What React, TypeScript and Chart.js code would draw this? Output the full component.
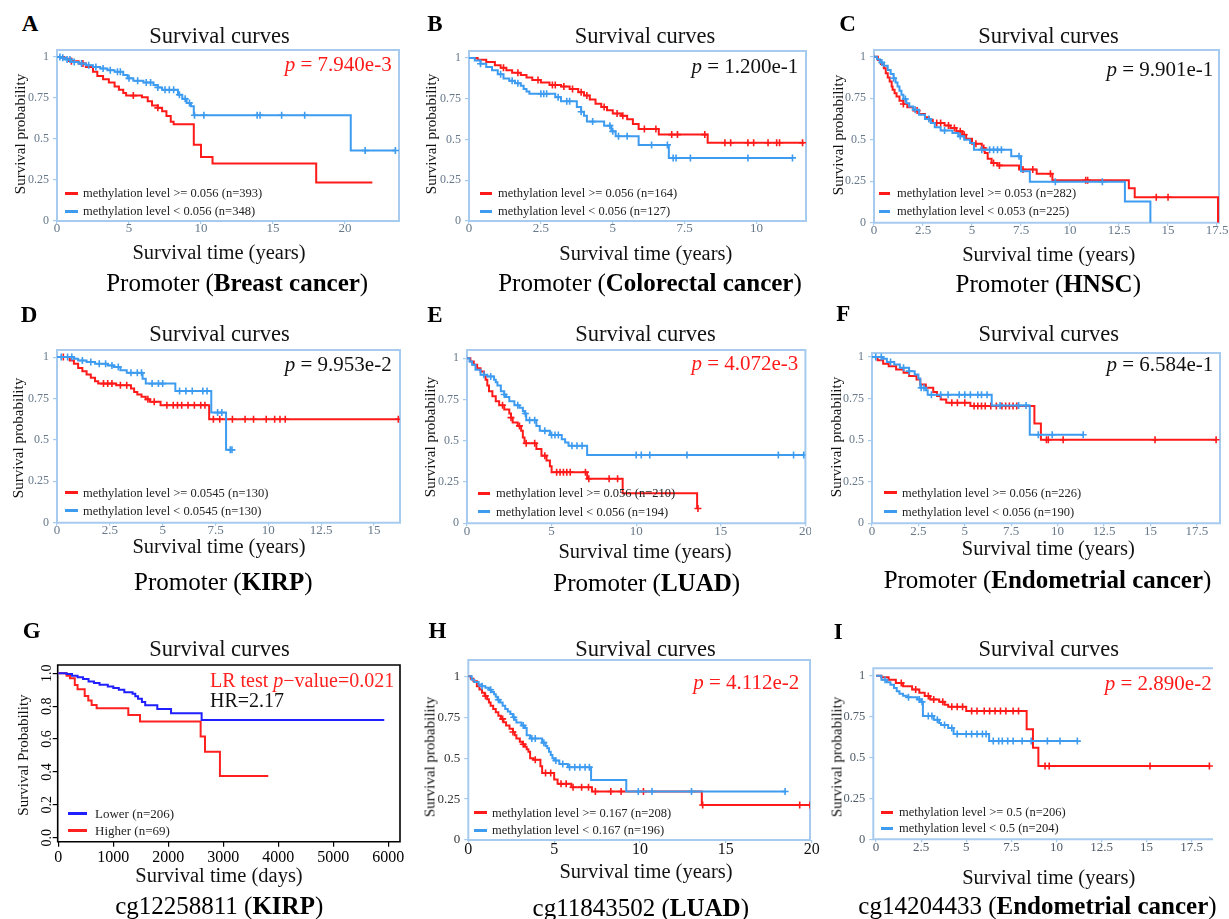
import React, { useEffect, useRef } from "react";
import { Chart, registerables } from "chart.js";

Chart.register(...registerables);

const FONT = '"Liberation Serif", "Times New Roman", Times, serif';
const RED = "#ff1a1a";
const BLUE = "#3d9bf0";
const R_BLUE = "#1f1fff";
const R_RED = "#ff2020";
const BOX = "#a6cbef";

// ---------- tick values ----------
const yearTicks5 = [0, 5, 10, 15, 20];
const yearTicks25B = [0, 2.5, 5, 7.5, 10];
const yearTicks25D = [0, 2.5, 5, 7.5, 10, 12.5, 15];
const yearTicks25 = [0, 2.5, 5, 7.5, 10, 12.5, 15, 17.5];
const dayTicks = [0, 1000, 2000, 3000, 4000, 5000, 6000];
const probTicks = [0, 0.25, 0.5, 0.75, 1];
const probTicksR = [0, 0.2, 0.4, 0.6, 0.8, 1.0];

// ---------- A: Breast cancer ----------
const aHiT = [0, 0.5, 1.0, 1.5, 2.0, 2.5, 2.8, 3.2, 3.6, 4.0, 4.3, 4.6, 4.8, 5.9, 6.3, 6.6, 7.0, 7.3, 7.6, 7.9, 8.1, 9.5, 10.0, 10.8, 18.0, 21.9];
const aHiS = [1, 0.99, 0.975, 0.96, 0.94, 0.91, 0.885, 0.865, 0.845, 0.82, 0.8, 0.78, 0.765, 0.755, 0.73, 0.705, 0.69, 0.67, 0.64, 0.605, 0.59, 0.465, 0.39, 0.35, 0.235, 0.235];
const aHiC = [1.0, 1.8, 5.3, 7.0];
const aLoT = [0, 0.3, 0.6, 1.0, 1.5, 2.0, 2.5, 3.0, 3.5, 4.0, 4.6, 4.9, 5.3, 6.0, 6.7, 7.0, 7.3, 8.4, 8.7, 9.0, 9.3, 9.5, 20.4, 23.5];
const aLoS = [1, 0.995, 0.985, 0.97, 0.96, 0.95, 0.94, 0.93, 0.92, 0.91, 0.89, 0.87, 0.855, 0.845, 0.83, 0.815, 0.8, 0.77, 0.745, 0.72, 0.7, 0.645, 0.43, 0.43];
const aLoC = [0.2, 0.4, 0.7, 0.9, 1.2, 1.7, 2.2, 2.7, 3.2, 3.7, 4.2, 4.4, 5.0, 5.6, 6.2, 6.5, 7.0, 7.5, 7.8, 8.1, 8.5, 8.9, 9.2, 9.55, 10.2, 13.9, 14.1, 15.6, 17.2, 21.4, 23.5];

// ---------- B: Colorectal cancer ----------
const bHiT = [0, 0.3, 0.6, 0.9, 1.1, 1.3, 1.5, 1.8, 2.0, 2.2, 2.5, 2.8, 3.2, 3.5, 3.8, 4.0, 4.2, 4.4, 4.6, 4.8, 5.0, 5.3, 5.5, 5.7, 5.9, 6.6, 8.3, 11.65];
const bHiS = [1, 0.99, 0.975, 0.955, 0.94, 0.925, 0.91, 0.895, 0.88, 0.865, 0.85, 0.835, 0.825, 0.81, 0.79, 0.77, 0.745, 0.72, 0.7, 0.68, 0.66, 0.645, 0.625, 0.595, 0.565, 0.53, 0.48, 0.48];
const bHiC = [1.2, 1.7, 2.4, 2.9, 3.0, 3.3, 3.6, 3.9, 4.1, 4.7, 5.15, 5.35, 6.1, 6.5, 7.05, 7.25, 8.2, 8.9, 9.1, 9.7, 9.9, 10.4, 10.7, 10.8, 11.6];
const bLoT = [0, 0.2, 0.4, 0.6, 0.8, 1.0, 1.2, 1.4, 1.6, 1.8, 1.9, 2.0, 2.1, 3.0, 3.2, 3.75, 3.9, 4.0, 4.1, 4.7, 4.95, 5.1, 5.9, 6.95, 11.25];
const bLoS = [1, 0.985, 0.965, 0.945, 0.925, 0.9, 0.875, 0.86, 0.845, 0.83, 0.81, 0.795, 0.78, 0.76, 0.735, 0.7, 0.67, 0.645, 0.61, 0.585, 0.55, 0.52, 0.467, 0.387, 0.387];
const bLoC = [0.4, 1.1, 1.5, 1.7, 2.5, 2.6, 2.7, 3.1, 3.4, 3.5, 3.9, 4.3, 4.9, 5.0, 5.2, 5.5, 6.35, 6.9, 7.1, 7.2, 7.7, 9.7, 11.25];

// ---------- C: HNSC ----------
const cHiT = [0, 0.2, 0.35, 0.5, 0.6, 0.7, 0.8, 0.9, 0.95, 1.05, 1.15, 1.3, 1.5, 1.7, 2.0, 2.3, 2.6, 2.8, 3.0, 3.6, 3.9, 4.2, 4.5, 4.7, 5.0, 5.5, 5.65, 5.8, 6.0, 6.3, 7.4, 8.3, 9.1, 13.0, 13.3, 17.55];
const cHiS = [1, 0.98, 0.955, 0.93, 0.9, 0.875, 0.85, 0.82, 0.8, 0.78, 0.76, 0.735, 0.715, 0.695, 0.675, 0.655, 0.635, 0.62, 0.6, 0.585, 0.57, 0.55, 0.53, 0.505, 0.475, 0.45, 0.42, 0.385, 0.36, 0.345, 0.32, 0.295, 0.255, 0.207, 0.153, 0];
const cHiC = [1.5, 2.2, 3.2, 3.4, 3.8, 4.1, 4.4, 4.6, 5.2, 5.6, 6.1, 6.4, 7.6, 8.1, 9.0, 10.8, 10.9, 14.4, 15.0];
const cLoT = [0, 0.15, 0.3, 0.5, 0.7, 0.85, 1.0, 1.1, 1.2, 1.3, 1.4, 1.5, 1.65, 1.8, 2.0, 2.3, 2.6, 2.9, 3.1, 3.4, 4.0, 4.3, 4.6, 4.9, 5.1, 7.0, 7.5, 7.95, 12.8, 14.1];
const cLoS = [1, 0.985, 0.965, 0.945, 0.92, 0.895, 0.87, 0.845, 0.82, 0.795, 0.77, 0.745, 0.72, 0.7, 0.68, 0.65, 0.625, 0.6, 0.575, 0.555, 0.54, 0.52, 0.5, 0.48, 0.44, 0.4, 0.31, 0.247, 0.127, 0];
const cLoC = [0.4, 1.0, 1.6, 2.1, 2.8, 3.6, 4.4, 5.5, 5.9, 6.1, 6.3, 6.5, 7.4, 9.25, 11.65];

// ---------- D: KIRP ----------
const dHiT = [0, 0.6, 0.8, 1.0, 1.2, 1.4, 1.6, 1.8, 1.95, 2.8, 3.5, 3.65, 3.8, 4.0, 4.2, 4.4, 4.9, 7.2, 16.15];
const dHiS = [1, 0.98, 0.96, 0.935, 0.915, 0.895, 0.875, 0.855, 0.84, 0.83, 0.81, 0.79, 0.775, 0.76, 0.745, 0.73, 0.71, 0.625, 0.625];
const dHiC = [0.3, 2.2, 2.4, 2.6, 3.0, 3.3, 4.3, 4.6, 5.2, 5.5, 5.7, 5.9, 6.2, 6.5, 6.8, 7.0, 7.4, 7.7, 8.3, 8.9, 9.3, 9.9, 10.3, 10.55, 10.8, 16.15];
const dLoT = [0, 0.8, 1.0, 1.4, 1.8, 2.4, 2.7, 3.0, 3.3, 4.05, 4.2, 5.6, 7.3, 8.0, 8.28];
const dLoS = [1, 0.99, 0.98, 0.97, 0.96, 0.95, 0.94, 0.92, 0.905, 0.87, 0.84, 0.795, 0.665, 0.44, 0.44];
const dLoC = [0.2, 0.5, 0.7, 1.2, 1.6, 2.0, 2.3, 2.6, 2.9, 3.5, 3.8, 4.0, 4.5, 4.8, 5.0, 5.8, 6.1, 6.4, 6.9, 7.1, 7.6, 7.8, 8.2, 8.28];

// ---------- E: LUAD ----------
const eHiT = [0, 0.2, 0.4, 0.6, 0.8, 1.0, 1.1, 1.2, 1.3, 1.5, 1.7, 1.9, 2.2, 2.5, 2.6, 2.7, 3.0, 3.2, 3.3, 3.4, 4.1, 4.4, 4.7, 4.9, 5.0, 7.1, 9.2, 13.6];
const eHiS = [1, 0.98, 0.96, 0.94, 0.92, 0.895, 0.87, 0.835, 0.8, 0.77, 0.74, 0.715, 0.69, 0.665, 0.64, 0.61, 0.59, 0.56, 0.52, 0.485, 0.45, 0.41, 0.38, 0.345, 0.31, 0.27, 0.182, 0.09];
const eHiC = [2.1, 2.6, 3.1, 3.5, 4.0, 4.6, 5.3, 5.5, 5.7, 5.9, 6.1, 7.0, 7.2, 8.4, 8.9, 13.65];
const eLoT = [0, 0.15, 0.3, 0.5, 0.8, 1.2, 1.6, 1.7, 1.8, 2.0, 2.2, 2.3, 2.5, 2.8, 3.1, 3.3, 3.4, 3.5, 4.1, 4.3, 4.9, 5.6, 5.8, 6.0, 7.1, 19.9];
const eLoS = [1, 0.98, 0.96, 0.93, 0.9, 0.89, 0.87, 0.855, 0.835, 0.8, 0.78, 0.765, 0.74, 0.715, 0.7, 0.68, 0.665, 0.625, 0.59, 0.56, 0.535, 0.51, 0.49, 0.47, 0.414, 0.414];
const eLoC = [1.0, 1.4, 2.2, 3.0, 3.45, 3.7, 4.0, 4.6, 5.0, 5.2, 5.4, 6.2, 6.5, 6.8, 10.0, 10.3, 10.8, 13.0, 18.4, 19.3, 19.9];

// ---------- F: Endometrial cancer ----------
const fHiT = [0, 0.3, 0.6, 0.9, 1.3, 1.7, 2.0, 2.4, 2.6, 2.9, 3.3, 3.5, 3.7, 4.0, 5.3, 8.75, 9.1, 18.54];
const fHiS = [1, 0.98, 0.96, 0.945, 0.925, 0.905, 0.885, 0.865, 0.835, 0.815, 0.79, 0.765, 0.745, 0.725, 0.705, 0.6, 0.502, 0.502];
const fHiC = [4.3, 4.6, 5.0, 5.5, 5.7, 5.9, 6.1, 6.4, 6.7, 7.0, 7.2, 7.4, 7.6, 7.8, 9.4, 9.5, 10.3, 15.25, 18.54];
const fLoT = [0, 0.6, 0.8, 1.2, 1.5, 2.0, 2.3, 2.5, 2.6, 2.9, 3.0, 6.45, 8.5, 11.38];
const fLoS = [1, 0.99, 0.97, 0.955, 0.935, 0.915, 0.895, 0.87, 0.815, 0.8, 0.773, 0.709, 0.532, 0.532];
const fLoC = [0.2, 0.5, 1.0, 1.7, 2.0, 2.65, 2.8, 3.2, 3.7, 4.1, 4.7, 5.0, 5.3, 5.7, 5.9, 6.2, 6.9, 7.9, 8.3, 8.96, 9.71, 11.38];

// ---------- G: cg12258811 KIRP (days) ----------
const gLoT = [0, 150, 250, 350, 450, 550, 650, 750, 900, 1000, 1100, 1200, 1350, 1400, 1450, 1520, 1580, 1800, 2050, 2606, 5927];
const gLoS = [1, 0.995, 0.985, 0.975, 0.965, 0.95, 0.94, 0.93, 0.92, 0.91, 0.9, 0.885, 0.875, 0.86, 0.845, 0.825, 0.805, 0.783, 0.757, 0.716, 0.716];
const gHiT = [0, 150, 212, 300, 350, 480, 545, 606, 697, 1273, 1485, 2588, 2667, 2939, 3818];
const gHiS = [1, 0.985, 0.97, 0.929, 0.903, 0.862, 0.834, 0.807, 0.787, 0.746, 0.706, 0.615, 0.523, 0.375, 0.375];

// ---------- H: cg11843502 LUAD ----------
const hHiT = [0, 0.15, 0.3, 0.5, 0.65, 0.8, 0.95, 1.1, 1.2, 1.3, 1.45, 1.6, 1.75, 1.9, 2.05, 2.2, 2.4, 2.6, 2.7, 2.8, 3.0, 3.15, 3.3, 3.4, 3.5, 3.6, 3.8, 4.2, 4.3, 5.0, 5.2, 6.0, 7.2, 13.6, 19.9];
const hHiS = [1, 0.985, 0.97, 0.94, 0.92, 0.9, 0.88, 0.86, 0.84, 0.82, 0.8, 0.78, 0.76, 0.74, 0.72, 0.7, 0.68, 0.66, 0.64, 0.62, 0.6, 0.585, 0.57, 0.555, 0.54, 0.5, 0.49, 0.45, 0.41, 0.37, 0.343, 0.322, 0.296, 0.214, 0.214];
const hHiC = [1.0, 2.0, 2.6, 3.2, 3.9, 4.5, 4.8, 5.4, 5.7, 6.1, 6.6, 7.0, 7.4, 8.3, 8.9, 10.2, 13.65, 19.3, 19.9];
const hLoT = [0, 0.2, 0.35, 0.6, 0.8, 1.0, 1.2, 1.35, 1.5, 1.6, 1.7, 1.85, 2.0, 2.15, 2.3, 2.45, 2.6, 2.7, 2.8, 3.1, 3.3, 3.4, 3.6, 4.3, 4.5, 4.6, 4.7, 4.8, 4.9, 5.0, 5.3, 5.8, 7.15, 9.2, 18.45];
const hLoS = [1, 0.98, 0.965, 0.95, 0.94, 0.93, 0.918, 0.905, 0.89, 0.875, 0.857, 0.84, 0.82, 0.8, 0.786, 0.77, 0.75, 0.735, 0.718, 0.7, 0.684, 0.64, 0.62, 0.595, 0.575, 0.56, 0.54, 0.52, 0.5, 0.486, 0.465, 0.445, 0.367, 0.296, 0.296];
const hLoC = [0.8, 1.3, 1.75, 2.65, 3.2, 3.7, 3.9, 4.4, 5.1, 5.5, 5.9, 6.2, 6.5, 6.8, 7.05, 9.9, 10.7, 13.0, 18.45];

// ---------- I: cg14204433 Endometrial cancer ----------
const iHiT = [0, 0.3, 0.7, 1.1, 1.5, 2.0, 2.4, 2.7, 3.0, 3.5, 3.8, 4.0, 5.0, 8.35, 8.7, 9.0, 18.48];
const iHiS = [1, 0.99, 0.975, 0.955, 0.935, 0.915, 0.895, 0.875, 0.855, 0.84, 0.822, 0.81, 0.784, 0.672, 0.56, 0.448, 0.448];
const iHiC = [1.4, 2.2, 2.9, 3.2, 3.7, 4.2, 4.5, 4.8, 5.3, 5.6, 6.0, 6.3, 6.6, 6.9, 7.2, 7.6, 7.9, 9.37, 9.6, 15.19, 18.48];
const iLoT = [0, 0.3, 0.6, 0.8, 1.0, 1.15, 1.3, 1.5, 1.7, 2.3, 2.5, 2.6, 3.2, 3.5, 3.6, 4.0, 4.3, 6.27, 11.16];
const iLoS = [1, 0.975, 0.96, 0.945, 0.925, 0.905, 0.89, 0.878, 0.868, 0.855, 0.84, 0.754, 0.73, 0.71, 0.699, 0.68, 0.644, 0.6, 0.6];
const iLoC = [0.5, 1.8, 2.4, 2.55, 2.9, 3.1, 3.4, 3.8, 4.2, 4.5, 5.0, 5.3, 5.6, 5.9, 6.1, 6.5, 6.8, 7.0, 7.3, 7.6, 8.1, 8.6, 9.5, 10.2, 11.16];

type Series = { label: string; times: number[]; surv: number[]; cens: number[]; color: string; row: number };

function hiLo(hiLabel: string, loLabel: string, hT: number[], hS: number[], hC: number[], lT: number[], lS: number[], lC: number[]): Series[] {
  return [
    { label: loLabel, times: lT, surv: lS, cens: lC, color: BLUE, row: 1 },
    { label: hiLabel, times: hT, surv: hS, cens: hC, color: RED, row: 0 },
  ];
}

const webTick = { xFont: 13, yFont: 12, xColor: "#66788a", yColor: "#66788a" };

const PANELS: any[] = [
  {
    id: "A", box: [57, 50, 399, 221], x: [0, 23.75], y: [0, 1.043], xTicks: yearTicks5, yTicks: probTicks, ...webTick,
    series: hiLo("methylation level >= 0.056 (n=393)", "methylation level < 0.056 (n=348)", aHiT, aHiS, aHiC, aLoT, aLoS, aLoC),
    letter: [30, 22.8], title: [219.5, 36], pval: { x: 391.7, y: 64.2, red: true, v: "7.940e-3" },
    legend: { x1: 65, x2: 78, tx: 83, ys: [193, 211], size: 12.5 },
    xTitle: [219, 252, "Survival time (years)"], yTitle: [20, 134, "Survival probability"],
    sub: [237.2, 282.3, "Promoter (", "Breast cancer"],
  },
  {
    id: "B", box: [469, 51, 806, 221], x: [0, 11.72], y: [0, 1.043], xTicks: yearTicks25B, yTicks: probTicks, ...webTick,
    series: hiLo("methylation level >= 0.056 (n=164)", "methylation level < 0.056 (n=127)", bHiT, bHiS, bHiC, bLoT, bLoS, bLoC),
    letter: [435, 22.8], title: [645, 36], pval: { x: 798.3, y: 66.2, red: false, v: "1.200e-1" },
    legend: { x1: 480, x2: 492, tx: 498, ys: [193, 211], size: 12.5 },
    xTitle: [645.8, 252.5, "Survival time (years)"], yTitle: [430.7, 134, "Survival probability"],
    sub: [650, 282.3, "Promoter (", "Colorectal cancer"],
  },
  {
    id: "C", box: [874, 50, 1219, 222.7], x: [0, 17.6], y: [0, 1.04], xTicks: yearTicks25, yTicks: probTicks, ...webTick, mr: 10,
    series: hiLo("methylation level >= 0.053 (n=282)", "methylation level < 0.053 (n=225)", cHiT, cHiS, cHiC, cLoT, cLoS, cLoC),
    letter: [847.5, 22.5], title: [1048.5, 36], pval: { x: 1213.3, y: 69.2, red: false, v: "9.901e-1" },
    legend: { x1: 879, x2: 890, tx: 897, ys: [193, 211], size: 12.5 },
    xTitle: [1048.7, 254, "Survival time (years)"], yTitle: [838.3, 135, "Survival probability"],
    sub: [1048.3, 283.3, "Promoter (", "HNSC"],
  },
  {
    id: "D", box: [57, 350, 400, 522.7], x: [0, 16.23], y: [0, 1.043], xTicks: yearTicks25D, yTicks: probTicks, ...webTick,
    series: hiLo("methylation level >= 0.0545 (n=130)", "methylation level < 0.0545 (n=130)", dHiT, dHiS, dHiC, dLoT, dLoS, dLoC),
    letter: [29, 314], title: [219.5, 334], pval: { x: 391.7, y: 364.2, red: false, v: "9.953e-2" },
    legend: { x1: 65, x2: 78, tx: 83, ys: [492.7, 510.7], size: 12.5 },
    xTitle: [219, 545.8, "Survival time (years)"], yTitle: [18.3, 437.5, "Survival probability"],
    sub: [223.3, 580.5, "Promoter (", "KIRP"],
  },
  {
    id: "E", box: [467, 350, 810, 523.3], x: [0, 20], y: [0, 1.05], xTicks: yearTicks5, yTicks: probTicks, ...webTick, mr: 1,
    series: hiLo("methylation level >= 0.056 (n=210)", "methylation level < 0.056 (n=194)", eHiT, eHiS, eHiC, eLoT, eLoS, eLoC),
    letter: [435, 314], title: [645.5, 334], pval: { x: 798.3, y: 362.5, red: true, v: "4.072e-3" },
    legend: { x1: 478, x2: 490, tx: 496, ys: [493, 511.7], size: 12.5 },
    xTitle: [645, 551, "Survival time (years)"], yTitle: [430, 436.7, "Survival probability"],
    sub: [646.7, 581.5, "Promoter (", "LUAD"],
  },
  {
    id: "F", box: [872, 353, 1220, 523.3], x: [0, 18.75], y: [0, 1.024], xTicks: yearTicks25, yTicks: probTicks, ...webTick, mr: 9,
    series: hiLo("methylation level >= 0.056 (n=226)", "methylation level < 0.056 (n=190)", fHiT, fHiS, fHiC, fLoT, fLoS, fLoC),
    letter: [843.3, 312.5], title: [1048.7, 334], pval: { x: 1213.3, y: 364.2, red: false, v: "6.584e-1" },
    legend: { x1: 884, x2: 897, tx: 902, ys: [492.7, 511.7], size: 12.5 },
    xTitle: [1048.3, 547.5, "Survival time (years)"], yTitle: [836, 436.7, "Survival probability"],
    sub: [1047.5, 578.7, "Promoter (", "Endometrial cancer"],
  },
  {
    id: "G", box: [57.7, 665, 400, 841.7], x: [-11, 6213], y: [-0.024, 1.05], xTicks: dayTicks, yTicks: probTicksR,
    xFont: 16, yFont: 14, xColor: "#000", yColor: "#000", rStyle: true,
    series: [
      { label: "Lower (n=206)", times: gLoT, surv: gLoS, cens: [], color: R_BLUE, row: 0 },
      { label: "Higher (n=69)", times: gHiT, surv: gHiS, cens: [], color: R_RED, row: 1 },
    ],
    letter: [31.7, 630], title: [219.5, 649],
    legend: { x1: 68, x2: 87, tx: 95, ys: [813.3, 830], size: 13 },
    xTitle: [219, 874.8, "Survival time (days)"], yTitle: [23.3, 755, "Survival Probability"],
    sub: [219.2, 905.3, "cg12258811 (", "KIRP"],
  },
  {
    id: "H", box: [468.3, 660, 810, 840], x: [0, 19.9], y: [0, 1.10], xTicks: yearTicks5, yTicks: probTicks,
    xFont: 16, yFont: 13, xColor: "#111", yColor: "#333", mr: 12,
    series: hiLo("methylation level >= 0.167 (n=208)", "methylation level < 0.167 (n=196)", hHiT, hHiS, hHiC, hLoT, hLoS, hLoC),
    letter: [437.5, 630], title: [645.5, 649], pval: { x: 799.3, y: 681.7, red: true, v: "4.112e-2" },
    legend: { x1: 474, x2: 487, tx: 492, ys: [812.7, 830], size: 12.5 },
    xTitle: [646, 870.8, "Survival time (years)"], yTitle: [430, 756.7, "Survival probability"],
    sub: [640.8, 906.7, "cg11843502 (", "LUAD"],
  },
  {
    id: "I", box: [873.3, 668.3, 1213, 839.3], x: [-0.15, 18.68], y: [0, 1.045], xTicks: yearTicks25, yTicks: probTicks,
    xFont: 13, yFont: 12.5, xColor: "#4f5c69", yColor: "#4f5c69", openRight: true, mr: 14,
    series: hiLo("methylation level >= 0.5 (n=206)", "methylation level < 0.5 (n=204)", iHiT, iHiS, iHiC, iLoT, iLoS, iLoC),
    letter: [838.3, 630.7], title: [1048.8, 649], pval: { x: 1211.7, y: 682.5, red: true, v: "2.890e-2" },
    legend: { x1: 881, x2: 893, tx: 899, ys: [812.3, 828.3], size: 12.5 },
    xTitle: [1048.7, 876.7, "Survival time (years)"], yTitle: [836.7, 756.7, "Survival probability"],
    sub: [1037.5, 905.3, "cg14204433 (", "Endometrial cancer"],
  },
];

function survAt(times: number[], surv: number[], t: number) {
  let s = surv[0];
  for (let i = 0; i < times.length; i++) if (times[i] <= t) s = surv[i];
  return s;
}

const boxPlugin = {
  id: "panelBox",
  beforeDatasetsDraw(chart: any, _args: any, opts: any) {
    const { left, top, right, bottom } = chart.chartArea;
    const ctx = chart.ctx;
    ctx.save();
    ctx.strokeStyle = opts.color;
    ctx.lineWidth = opts.width;
    ctx.beginPath();
    if (opts.openRight) {
      ctx.moveTo(right, top);
      ctx.lineTo(left, top);
      ctx.lineTo(left, bottom);
      ctx.lineTo(right, bottom);
    } else {
      ctx.rect(left, top, right - left, bottom - top);
    }
    ctx.stroke();
    ctx.restore();
  },
};

function SurvivalChart({ p }: { p: any }) {
  const ref = useRef<HTMLCanvasElement | null>(null);
  const [L, T, R, B] = p.box;
  const cx = Math.floor(L - 55);
  const cy = Math.floor(T - 8);
  const cw = Math.ceil(R + (p.mr ?? 12)) - cx;
  const ch = Math.ceil(B + 30) - cy;
  const ml = L - cx;
  const mt = T - cy;
  const mr = cx + cw - R;
  const mb = cy + ch - B;

  useEffect(() => {
    if (!ref.current) return;
    const r = !!p.rStyle;
    const datasets: any[] = [];
    for (const s of p.series as Series[]) {
      if (s.cens.length) {
        datasets.push({
          data: s.cens.map((t) => ({ x: t, y: survAt(s.times, s.surv, t) })),
          showLine: false,
          pointStyle: "cross",
          pointRadius: 3.5,
          pointBorderWidth: 1.6,
          borderColor: s.color,
          backgroundColor: s.color,
        });
      }
      datasets.push({
        data: s.times.map((t, i) => ({ x: t, y: s.surv[i] })),
        stepped: "before",
        borderColor: s.color,
        backgroundColor: s.color,
        borderWidth: 2,
        pointRadius: 0,
        fill: false,
      });
    }
    const markColor = r ? "#000" : BOX;
    const chart = new Chart(ref.current, {
      type: "line",
      data: { datasets },
      plugins: [boxPlugin],
      options: {
        responsive: false,
        animation: false,
        events: [],
        layout: { padding: { left: 0, top: mt, right: mr, bottom: 0 } },
        plugins: {
          legend: { display: false },
          tooltip: { enabled: false },
          title: { display: false },
          panelBox: { color: r ? "#000" : BOX, width: r ? 1.6 : 2, openRight: !!p.openRight },
        } as any,
        scales: {
          x: {
            type: "linear",
            min: p.x[0],
            max: p.x[1],
            afterBuildTicks: (s: any) => { s.ticks = p.xTicks.map((v: number) => ({ value: v })); },
            afterFit: (s: any) => { s.height = mb; s.paddingLeft = 0; s.paddingRight = 0; },
            ticks: {
              autoSkip: false, maxRotation: 0, minRotation: 0,
              font: { family: FONT, size: p.xFont }, color: p.xColor,
              padding: r ? 1 : -3,
              callback: (v: any) => String(v),
            },
            grid: { drawOnChartArea: false, drawTicks: true, tickLength: r ? 5 : 3, color: markColor, lineWidth: 1.2 },
            border: { display: false },
          },
          y: {
            type: "linear",
            min: p.y[0],
            max: p.y[1],
            afterBuildTicks: (s: any) => { s.ticks = p.yTicks.map((v: number) => ({ value: v })); },
            afterFit: (s: any) => { s.width = ml; s.paddingTop = 0; s.paddingBottom = 0; },
            ticks: r
              ? { font: { family: FONT, size: p.yFont }, color: p.yColor, padding: -3, minRotation: 90, maxRotation: 90, crossAlign: "center", callback: (v: any) => Number(v).toFixed(1) }
              : { font: { family: FONT, size: p.yFont }, color: p.yColor, padding: 4, callback: (v: any) => String(v) },
            grid: { drawOnChartArea: false, drawTicks: true, tickLength: r ? 5 : 4, color: markColor, lineWidth: 1.2 },
            border: { display: false },
          },
        },
      } as any,
    });
    return () => chart.destroy();
  }, []);

  return (
    <canvas
      ref={ref}
      width={cw}
      height={ch}
      style={{ position: "absolute", left: cx, top: cy, width: cw, height: ch }}
    />
  );
}

function Txt({ x, y, size, anchor = "c", color = "#000", bold = false, rot = 0, children }: any) {
  const tx = anchor === "c" ? "-50%" : anchor === "r" ? "-100%" : "0%";
  return (
    <div
      style={{
        position: "absolute",
        left: x,
        top: y,
        transform: `translate(${tx}, -50%)` + (rot ? ` rotate(${rot}deg)` : ""),
        fontSize: size,
        lineHeight: 1,
        whiteSpace: "nowrap",
        color,
        fontWeight: bold ? 700 : 400,
        fontFamily: FONT,
      }}
    >
      {children}
    </div>
  );
}

function PanelText({ p }: { p: any }) {
  const legendItems = [...p.series].sort((a: Series, b: Series) => a.row - b.row);
  return (
    <>
      <Txt x={p.letter[0]} y={p.letter[1]} size={23} bold>{p.id}</Txt>
      <Txt x={p.title[0]} y={p.title[1]} size={22.5} color="#111">Survival curves</Txt>
      {p.pval && (
        <Txt x={p.pval.x} y={p.pval.y} size={21} anchor="r" color={p.pval.red ? RED : "#111"}>
          <i>p</i> = {p.pval.v}
        </Txt>
      )}
      {legendItems.map((s: Series, i: number) => (
        <React.Fragment key={i}>
          <div
            style={{
              position: "absolute",
              left: p.legend.x1,
              top: p.legend.ys[i] - 1.5,
              width: p.legend.x2 - p.legend.x1,
              height: 3,
              background: s.color,
            }}
          />
          <Txt x={p.legend.tx} y={p.legend.ys[i]} size={p.legend.size} anchor="l" color="#222">{s.label}</Txt>
        </React.Fragment>
      ))}
      <Txt x={p.xTitle[0]} y={p.xTitle[1]} size={20.5} color="#111">{p.xTitle[2]}</Txt>
      <Txt x={p.yTitle[0]} y={p.yTitle[1]} size={15} rot={-90} color="#111">{p.yTitle[2]}</Txt>
      <Txt x={p.sub[0]} y={p.sub[1]} size={25}>
        {p.sub[2]}<b>{p.sub[3]}</b>)
      </Txt>
    </>
  );
}

export default function App() {
  return (
    <div
      style={{
        position: "absolute",
        left: 0,
        top: 0,
        width: 1229,
        height: 919,
        background: "#fff",
        overflow: "hidden",
        fontFamily: FONT,
        color: "#000",
      }}
    >
      {PANELS.map((p) => (
        <SurvivalChart key={p.id} p={p} />
      ))}
      {PANELS.map((p) => (
        <PanelText key={"t" + p.id} p={p} />
      ))}
      <Txt x={210} y={680} size={20} anchor="l" color={R_RED}>
        LR test <i>p</i>−value=0.021
      </Txt>
      <Txt x={210} y={700} size={20} anchor="l" color="#111">HR=2.17</Txt>
    </div>
  );
}
